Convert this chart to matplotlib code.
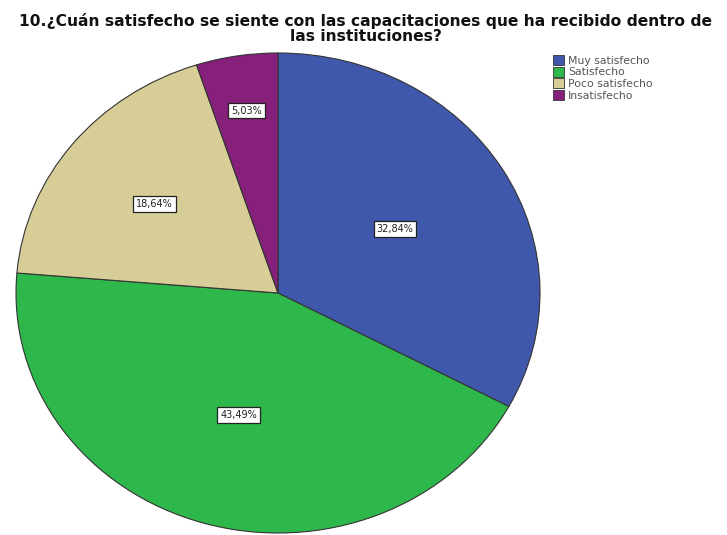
import matplotlib
matplotlib.use("Agg")
import matplotlib.pyplot as plt
from matplotlib.patches import Patch
import numpy as np

plt.rcParams['font.family'] = ['DejaVu Sans']

categories = ["Muy satisfecho", "Satisfecho", "Poco satisfecho", "Insatisfecho"]
percentages = [32.84, 43.49, 18.64, 5.03]
value_labels = ["32,84%", "43,49%", "18,64%", "5,03%"]
colors = ["#3F58AB", "#2EB84B", "#D6CE96", "#86207B"]
label_radius = [0.52, 0.53, 0.60, 0.77]

fig = plt.figure(figsize=(7.27, 5.35), dpi=100)
ax = fig.add_axes([16 / 727, 1 - 533 / 535, 524 / 727, 480 / 535])

wedges, _ = ax.pie(percentages, colors=colors, startangle=90, counterclock=False,
                   radius=1.0, wedgeprops=dict(edgecolor="#333333", linewidth=0.8))
ax.set_aspect("auto")
ax.set_xlim(-1.0, 1.0)
ax.set_ylim(-1.0, 1.0)
ax.axis("off")

for w, lab, r in zip(wedges, value_labels, label_radius):
    mid = np.deg2rad((w.theta1 + w.theta2) / 2)
    ax.text(r * np.cos(mid), r * np.sin(mid), lab, ha="center", va="center",
            fontsize=7, color="#222222",
            bbox=dict(boxstyle="square,pad=0.3", facecolor="white",
                      edgecolor="#222222", linewidth=0.9))

fig.text(0.503, 0.947,
         "10.¿Cuán satisfecho se siente con las capacitaciones que ha recibido dentro de\nlas instituciones?",
         ha="center", va="center", fontsize=11.2, fontweight="bold", linespacing=1.0,
         color="#111111")

handles = [Patch(facecolor=c, edgecolor="#333333", linewidth=0.6) for c in colors]
fig.legend(handles, categories, loc="upper left", bbox_to_anchor=(551 / 727, 1 - 53 / 535),
           frameon=False, fontsize=7.8, handlelength=1.0, handleheight=1.0,
           handletextpad=0.35, labelspacing=0.1, borderaxespad=0, borderpad=0.2,
           labelcolor="#555555")

fig.savefig("out.png", dpi=100)
